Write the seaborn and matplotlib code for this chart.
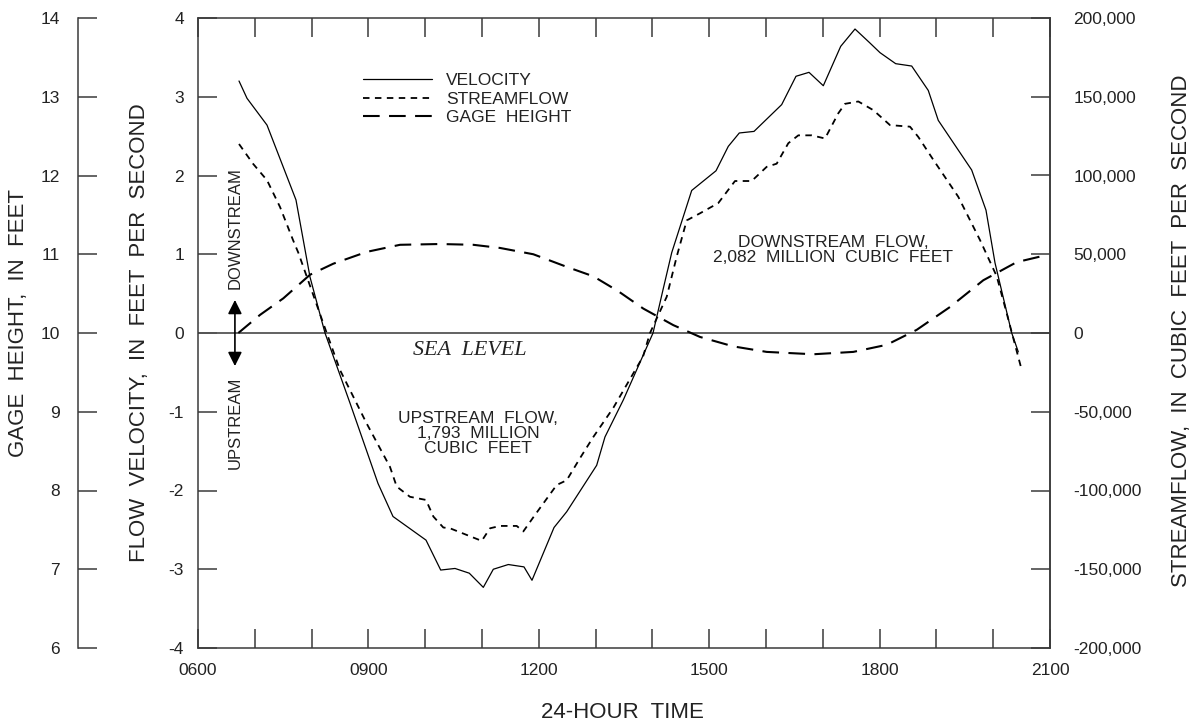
import matplotlib
matplotlib.use("Agg")
import matplotlib.pyplot as plt
import seaborn as sns
import pandas as pd
from matplotlib.ticker import FixedLocator, FuncFormatter
from matplotlib.lines import Line2D

# ---------------- data (hours of day, values) ----------------
vel_time = [6.722, 6.863, 7.215, 7.725, 7.972, 8.236, 8.676, 9.169, 9.433, 10.014,
            10.273, 10.525, 10.776, 11.023, 11.199, 11.463, 11.739, 11.880, 12.268, 12.491,
            13.019, 13.165, 13.488, 14.011, 14.187, 14.340, 14.692, 15.120, 15.336, 15.530,
            15.789, 16.276, 16.528, 16.757, 17.009, 17.315, 17.567, 17.819, 18.007, 18.283,
            18.565, 18.857, 19.033, 19.621, 19.873, 20.032, 20.326, 20.442]
velocity = [3.20, 2.98, 2.64, 1.69, 0.71, 0.0, -0.89, -1.91, -2.33, -2.63,
            -3.01, -2.99, -3.05, -3.23, -3.00, -2.94, -2.97, -3.14, -2.47, -2.27,
            -1.68, -1.32, -0.85, 0.0, 0.55, 1.02, 1.81, 2.06, 2.37, 2.54,
            2.56, 2.90, 3.26, 3.31, 3.14, 3.64, 3.86, 3.69, 3.56, 3.42,
            3.39, 3.08, 2.70, 2.07, 1.56, 0.89, 0.0, -0.24]

flow_time = [6.722, 6.968, 7.215, 7.444, 7.673, 7.766, 8.266, 8.500, 8.970, 9.380,
             9.498, 9.732, 10.014, 10.143, 10.319, 10.437, 10.995, 11.141, 11.317, 11.611,
             11.727, 11.933, 12.315, 12.491, 12.725, 12.960, 13.312, 13.835, 13.958, 14.252,
             14.428, 14.604, 14.838, 15.160, 15.454, 15.748, 16.012, 16.188, 16.393, 16.569,
             16.805, 17.039, 17.273, 17.391, 17.625, 17.889, 18.183, 18.535, 18.681, 18.945,
             19.385, 19.768, 20.062, 20.238, 20.502]
streamflow = [120000, 107500, 97000, 80000, 59000, 51000, 0, -23500, -57500, -85000,
              -97500, -104000, -106000, -116500, -123500, -124000, -132000, -124000, -122500, -122500,
              -126000, -115500, -96500, -93500, -79500, -66000, -47500, -15000, 0, 23000,
              48500, 71500, 76000, 82500, 96500, 96500, 105500, 107500, 120500, 125500,
              125500, 123500, 139500, 145500, 147000, 141500, 132000, 131000, 124500, 110000,
              86500, 59000, 36000, 12500, -23500]

gage_time = [6.710, 7.092, 7.502, 7.972, 8.382, 8.970, 9.556, 10.261, 10.847, 11.317,
             11.903, 12.491, 12.960, 13.400, 13.840, 14.368, 14.838, 15.424, 16.012, 16.833,
             17.537, 18.125, 18.653, 19.239, 19.826, 20.414, 20.824]
gage_height = [10.00, 10.23, 10.44, 10.74, 10.88, 11.03, 11.12, 11.13, 11.12, 11.08,
               11.00, 10.84, 10.72, 10.53, 10.31, 10.10, 9.95, 9.83, 9.76, 9.73,
               9.76, 9.85, 10.04, 10.33, 10.67, 10.90, 10.97]

hour_ticks = list(range(6, 22))
hour_labels = ["0600", "0900", "1200", "1500", "1800", "2100"]
vel_ticks = [-4, -3, -2, -1, 0, 1, 2, 3, 4]
gage_ticks = [6, 7, 8, 9, 10, 11, 12, 13, 14]
flow_ticks = [-200000, -150000, -100000, -50000, 0, 50000, 100000, 150000, 200000]

# ---------------- style ----------------
sns.set_style("ticks")
plt.rcParams["font.family"] = ["Liberation Sans", "DejaVu Sans"]
INK = "#222222"
SP = "#3a3a3a"
plt.rcParams["text.color"] = INK
plt.rcParams["axes.edgecolor"] = SP
plt.rcParams["xtick.color"] = SP
plt.rcParams["ytick.color"] = SP
plt.rcParams["xtick.labelcolor"] = INK
plt.rcParams["ytick.labelcolor"] = INK

W, H = 1197, 727
fig = plt.figure(figsize=(W / 100, H / 100), dpi=100)
L, R, T, B = 198, 1050, 18, 648
ax = fig.add_axes([L / W, 1 - B / H, (R - L) / W, (B - T) / H])
ax_f = ax.twinx()
ax_g = ax.twinx()

TL = 14.0  # tick length in points
LW = 1.1
FLOW_DASH = (0, (3.6, 3.0))
GAGE_DASH = (0, (8, 4.5))

# velocity (main axis)
df_v = pd.DataFrame({"time": vel_time, "velocity": velocity})
sns.lineplot(data=df_v, x="time", y="velocity", ax=ax, color="black", lw=0.9,
             errorbar=None, sort=False, legend=False)
ax.axhline(0, color="#555555", lw=1.3, zorder=1)
ax.set_xlim(6, 21)
ax.set_ylim(-4, 4)
ax.set_xlabel("")
ax.set_ylabel("")
ax.xaxis.set_major_locator(FixedLocator(hour_ticks))
ax.xaxis.set_major_formatter(FuncFormatter(
    lambda v, p: f"{int(round(v)):02d}00" if f"{int(round(v)):02d}00" in hour_labels else ""))
ax.set_yticks(vel_ticks)
ax.set_yticklabels([str(t) for t in vel_ticks])
ax.tick_params(axis="x", which="both", direction="in", length=TL, width=LW,
               top=True, bottom=True, labelsize=12.5, pad=11)
ax.tick_params(axis="y", direction="in", length=TL, width=LW, left=True, right=False,
               labelsize=12.5, pad=10)
for s in ax.spines.values():
    s.set_linewidth(LW)

# streamflow (right axis)
df_f = pd.DataFrame({"time": flow_time, "streamflow": streamflow})
sns.lineplot(data=df_f, x="time", y="streamflow", ax=ax_f, color="black", lw=1.3,
             linestyle=FLOW_DASH, errorbar=None, sort=False, legend=False)
ax_f.set_ylim(-200000, 200000)
ax_f.set_yticks(flow_ticks)
ax_f.yaxis.set_major_formatter(FuncFormatter(lambda v, p: f"{int(v):,}"))
ax_f.tick_params(axis="y", direction="in", length=TL, width=LW, labelsize=12.5, pad=17)
ax_f.set_ylabel("")
for k in ["left", "top", "bottom"]:
    ax_f.spines[k].set_visible(False)
ax_f.spines["right"].set_linewidth(LW)

# gage height (detached left axis)
df_g = pd.DataFrame({"time": gage_time, "gage": gage_height})
sns.lineplot(data=df_g, x="time", y="gage", ax=ax_g, color="black", lw=1.5,
             linestyle=GAGE_DASH, errorbar=None, sort=False, legend=False)
ax_g.set_ylim(6, 14)
ax_g.set_yticks(gage_ticks)
ax_g.yaxis.set_ticks_position("left")
ax_g.yaxis.set_label_position("left")
ax_g.spines["left"].set_position(("axes", (78 - L) / (R - L)))
ax_g.spines["left"].set_visible(True)
ax_g.spines["left"].set_linewidth(LW)
for k in ["right", "top", "bottom"]:
    ax_g.spines[k].set_visible(False)
ax_g.tick_params(axis="y", direction="in", length=TL, width=LW, labelsize=12.5, pad=13)
ax_g.set_ylabel("")

# ---------------- axis titles ----------------
def fy(py):
    return 1 - py / H

fig.text(18.5 / W, fy(323), "GAGE  HEIGHT,  IN  FEET", rotation=90, ha="center",
         va="center", fontsize=16)
fig.text(139 / W, fy(333), "FLOW  VELOCITY,  IN  FEET  PER  SECOND", rotation=90,
         ha="center", va="center", fontsize=16)
fig.text(1181 / W, fy(331), "STREAMFLOW,  IN  CUBIC  FEET  PER  SECOND", rotation=90,
         ha="center", va="center", fontsize=16)
fig.text(622 / W, fy(713), "24-HOUR  TIME", ha="center", va="center", fontsize=16)

# ---------------- annotations ----------------
ax.text(10.79, -0.22, "SEA  LEVEL", ha="center", va="center", fontsize=15.8,
        family=["Liberation Serif", "DejaVu Serif"], style="italic")
ax.text(10.93, -1.27, "UPSTREAM  FLOW,\n1,793  MILLION\nCUBIC  FEET", ha="center",
        va="center", fontsize=12.5, linespacing=1.0)
ax.text(17.18, 1.05, "DOWNSTREAM  FLOW,\n2,082  MILLION  CUBIC  FEET", ha="center",
        va="center", fontsize=12.5, linespacing=1.0)
ax.text(6.65, 1.33, "DOWNSTREAM", rotation=90, ha="center", va="center", fontsize=12)
ax.text(6.65, -1.14, "UPSTREAM", rotation=90, ha="center", va="center", fontsize=12)
ax.annotate("", xy=(6.65, 0.42), xytext=(6.65, -0.42),
            arrowprops=dict(arrowstyle="<|-|>", color="black", lw=1.2,
                            mutation_scale=21, shrinkA=0, shrinkB=0))

# ---------------- legend ----------------
handles = [
    Line2D([], [], color="black", lw=0.9),
    Line2D([], [], color="black", lw=1.3, linestyle=FLOW_DASH),
    Line2D([], [], color="black", lw=1.5, linestyle=GAGE_DASH),
]
ax.legend(handles, ["VELOCITY", "STREAMFLOW", "GAGE  HEIGHT"], loc="upper left",
          bbox_to_anchor=(363 / W, fy(73)), bbox_transform=fig.transFigure,
          frameon=False, fontsize=12.5, handlelength=3.95, handletextpad=0.85,
          labelspacing=0.2, borderpad=0, borderaxespad=0)

fig.savefig("out.png", dpi=100)
